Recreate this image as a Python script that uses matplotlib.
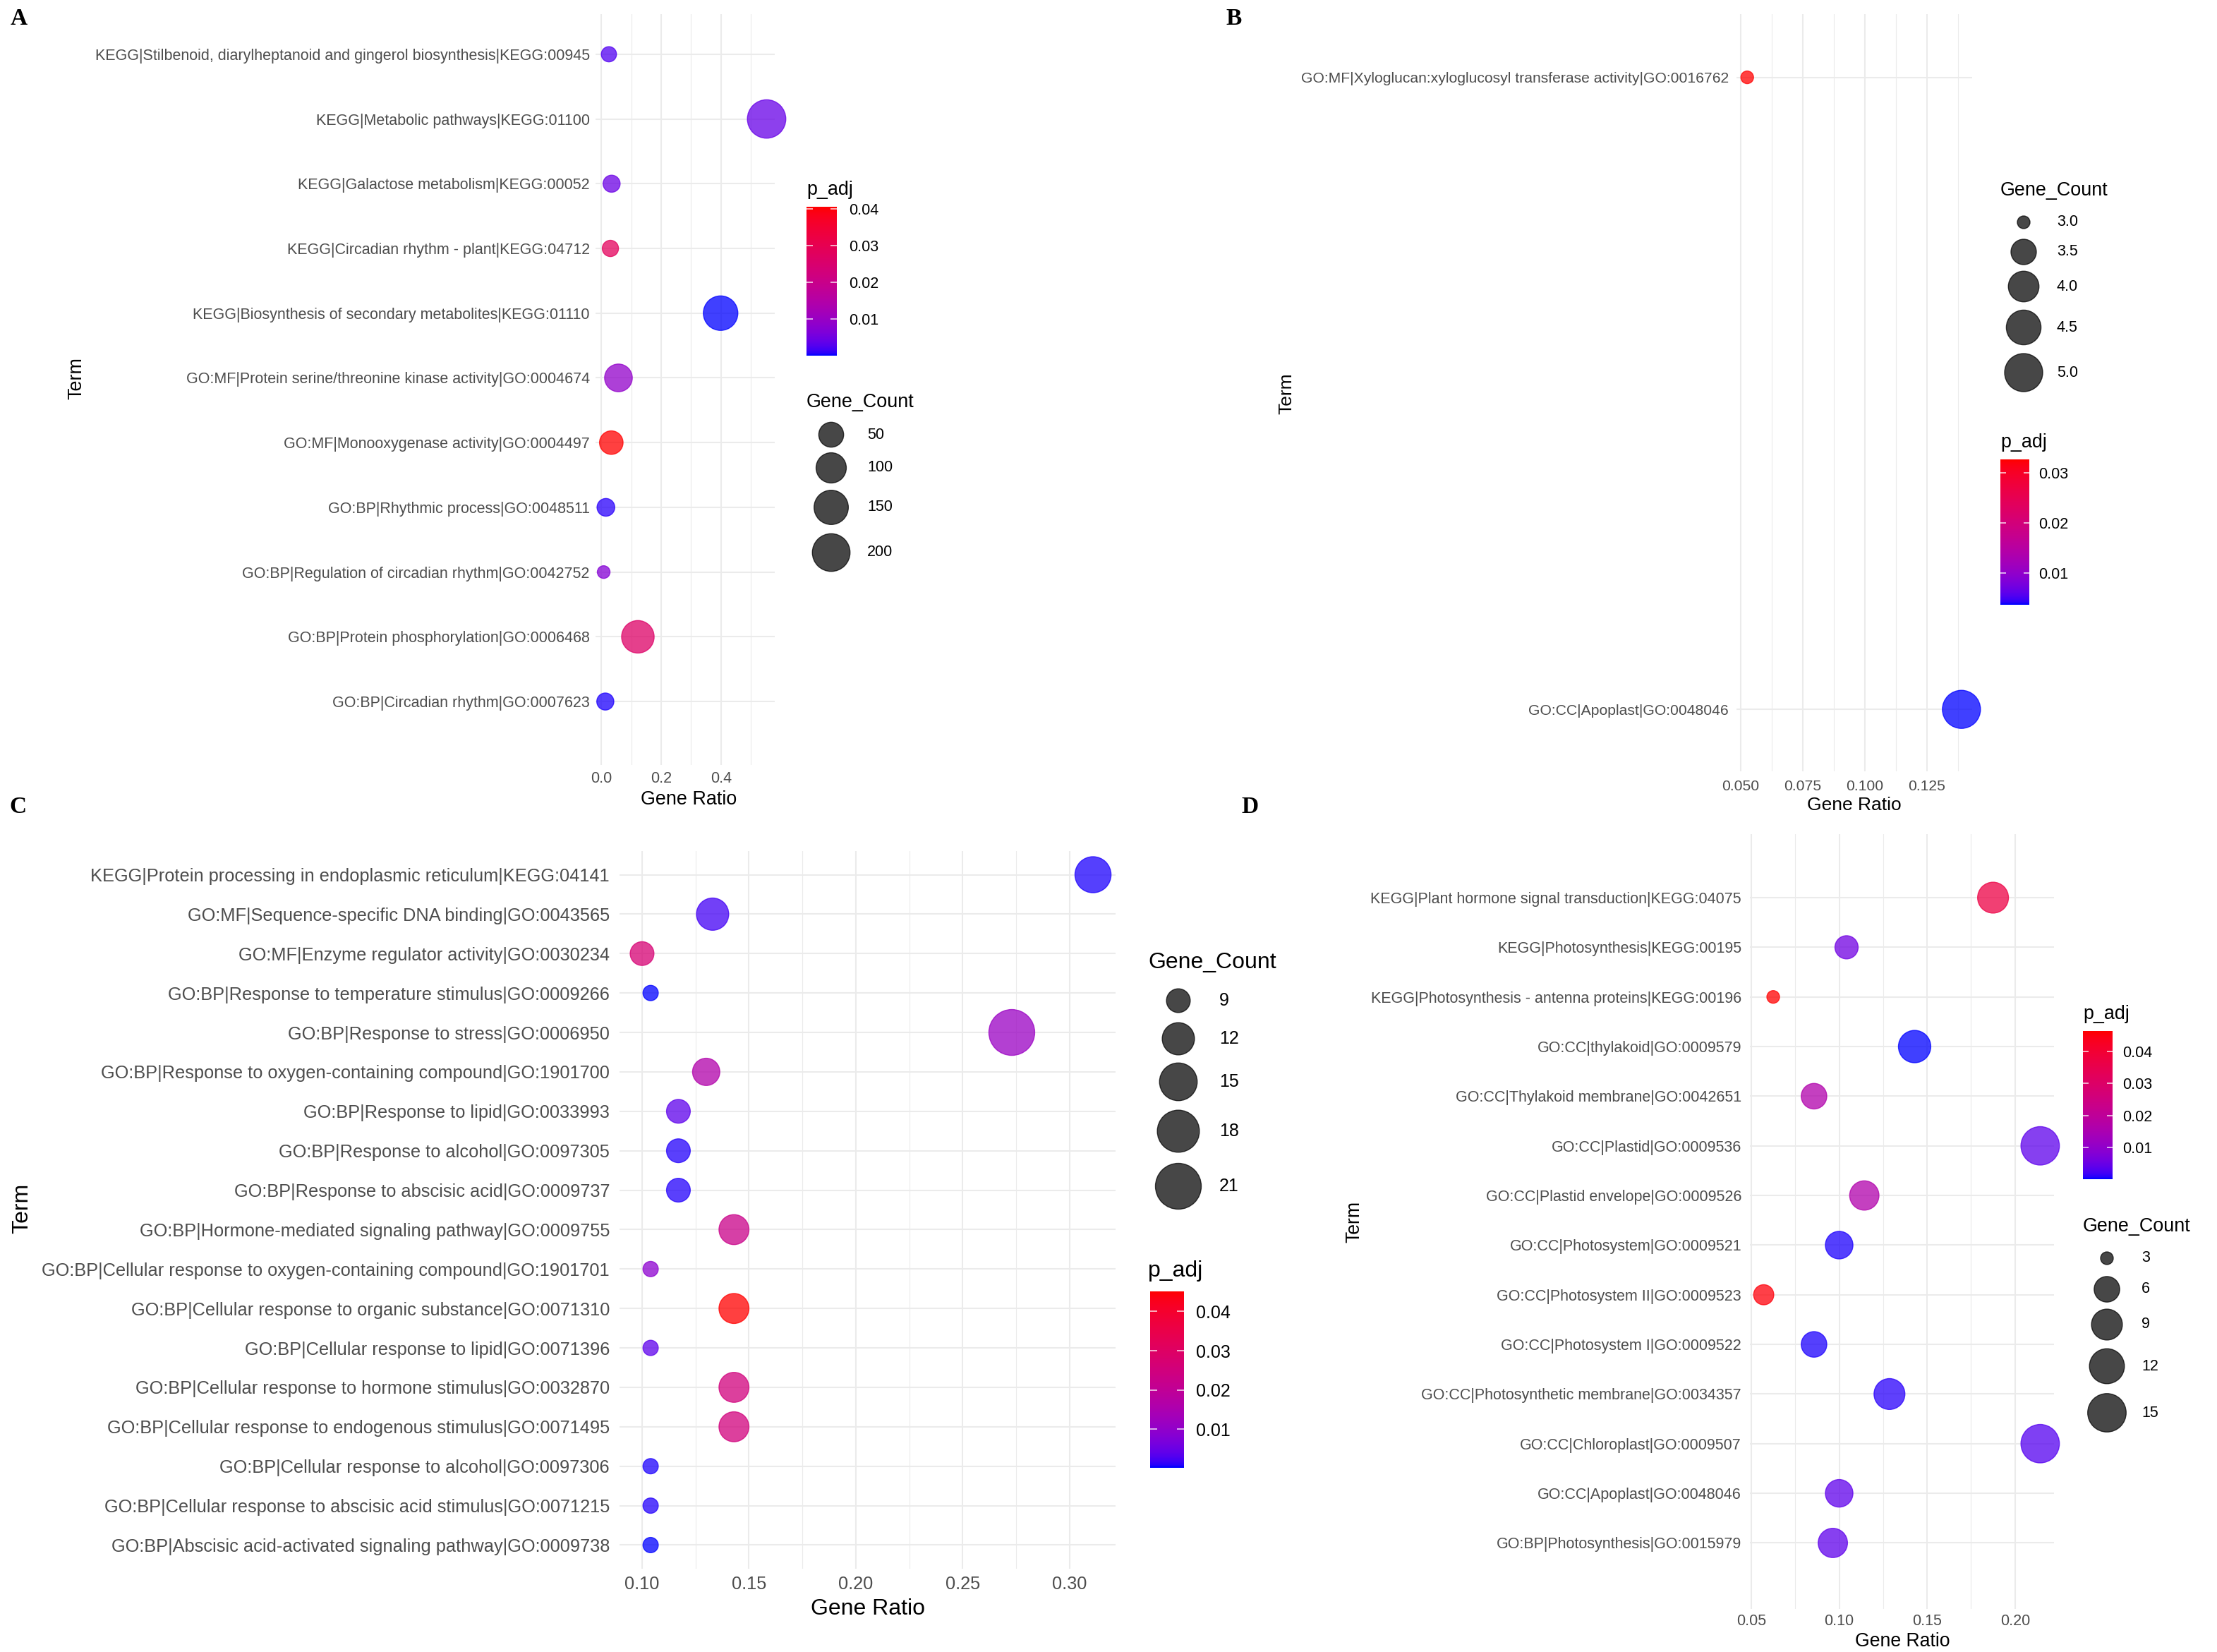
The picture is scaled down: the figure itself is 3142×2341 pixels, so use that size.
import numpy as np
import matplotlib
matplotlib.use("Agg")
import matplotlib.pyplot as plt
from matplotlib.colors import ListedColormap, Normalize
from matplotlib.ticker import MultipleLocator, FormatStrFormatter

plt.rcParams['font.family'] = ['Liberation Sans', 'DejaVu Sans']

W, H, DPI = 3142, 2341, 100

# ---------------- data (rows listed top to bottom) ----------------
terms_a = [
    "KEGG|Stilbenoid, diarylheptanoid and gingerol biosynthesis|KEGG:00945",
    "KEGG|Metabolic pathways|KEGG:01100",
    "KEGG|Galactose metabolism|KEGG:00052",
    "KEGG|Circadian rhythm - plant|KEGG:04712",
    "KEGG|Biosynthesis of secondary metabolites|KEGG:01110",
    "GO:MF|Protein serine/threonine kinase activity|GO:0004674",
    "GO:MF|Monooxygenase activity|GO:0004497",
    "GO:BP|Rhythmic process|GO:0048511",
    "GO:BP|Regulation of circadian rhythm|GO:0042752",
    "GO:BP|Protein phosphorylation|GO:0006468",
    "GO:BP|Circadian rhythm|GO:0007623",
]
ratio_a = [0.025, 0.553, 0.034, 0.030, 0.399, 0.057, 0.033, 0.015, 0.0075, 0.122, 0.013]
count_a = [5, 212, 9, 7, 153, 74, 40, 11, 3, 127, 9]
padj_a = [0.0025, 0.0042, 0.0045, 0.0285, 0.0001, 0.009, 0.0406, 0.0008, 0.0072, 0.0265, 0.0005]

terms_b = [
    "GO:MF|Xyloglucan:xyloglucosyl transferase activity|GO:0016762",
    "GO:CC|Apoplast|GO:0048046",
]
ratio_b = [0.0526, 0.1389]
count_b = [3, 5]
padj_b = [0.0327, 0.0037]

terms_c = [
    "KEGG|Protein processing in endoplasmic reticulum|KEGG:04141",
    "GO:MF|Sequence-specific DNA binding|GO:0043565",
    "GO:MF|Enzyme regulator activity|GO:0030234",
    "GO:BP|Response to temperature stimulus|GO:0009266",
    "GO:BP|Response to stress|GO:0006950",
    "GO:BP|Response to oxygen-containing compound|GO:1901700",
    "GO:BP|Response to lipid|GO:0033993",
    "GO:BP|Response to alcohol|GO:0097305",
    "GO:BP|Response to abscisic acid|GO:0009737",
    "GO:BP|Hormone-mediated signaling pathway|GO:0009755",
    "GO:BP|Cellular response to oxygen-containing compound|GO:1901701",
    "GO:BP|Cellular response to organic substance|GO:0071310",
    "GO:BP|Cellular response to lipid|GO:0071396",
    "GO:BP|Cellular response to hormone stimulus|GO:0032870",
    "GO:BP|Cellular response to endogenous stimulus|GO:0071495",
    "GO:BP|Cellular response to alcohol|GO:0097306",
    "GO:BP|Cellular response to abscisic acid stimulus|GO:0071215",
    "GO:BP|Abscisic acid-activated signaling pathway|GO:0009738",
]
ratio_c = [0.311, 0.133, 0.100, 0.104, 0.273, 0.130, 0.117, 0.117, 0.117,
           0.143, 0.104, 0.143, 0.104, 0.143, 0.143, 0.104, 0.104, 0.104]
count_c = [14, 12, 9, 8, 21, 10, 9, 9, 9, 11, 8, 11, 8, 11, 11, 8, 8, 8]
padj_c = [0.0006, 0.002, 0.027, 0.0003, 0.0114, 0.016, 0.0038, 0.0009, 0.0009,
          0.0226, 0.009, 0.0451, 0.0038, 0.025, 0.025, 0.0006, 0.0008, 0.0002]

terms_d = [
    "KEGG|Plant hormone signal transduction|KEGG:04075",
    "KEGG|Photosynthesis|KEGG:00195",
    "KEGG|Photosynthesis - antenna proteins|KEGG:00196",
    "GO:CC|thylakoid|GO:0009579",
    "GO:CC|Thylakoid membrane|GO:0042651",
    "GO:CC|Plastid|GO:0009536",
    "GO:CC|Plastid envelope|GO:0009526",
    "GO:CC|Photosystem|GO:0009521",
    "GO:CC|Photosystem II|GO:0009523",
    "GO:CC|Photosystem I|GO:0009522",
    "GO:CC|Photosynthetic membrane|GO:0034357",
    "GO:CC|Chloroplast|GO:0009507",
    "GO:CC|Apoplast|GO:0048046",
    "GO:BP|Photosynthesis|GO:0015979",
]
ratio_d = [0.1875, 0.1042, 0.0625, 0.1429, 0.0857, 0.2143, 0.1143,
           0.1000, 0.0571, 0.0857, 0.1286, 0.2143, 0.1000, 0.0964]
count_d = [9, 5, 3, 10, 6, 15, 8, 7, 4, 6, 9, 15, 7, 8]
padj_d = [0.037, 0.0057, 0.0464, 0.0001, 0.0163, 0.0038, 0.0163,
          0.0006, 0.0455, 0.0005, 0.001, 0.003, 0.004, 0.004]

# legend breaks
size_breaks_a = [50, 100, 150, 200]
size_breaks_b = [3.0, 3.5, 4.0, 4.5, 5.0]
size_breaks_c = [9, 12, 15, 18, 21]
size_breaks_d = [3, 6, 9, 12, 15]
p_ticks_a = [0.01, 0.02, 0.03, 0.04]
p_ticks_b = [0.01, 0.02, 0.03]
p_ticks_c = [0.01, 0.02, 0.03, 0.04]
p_ticks_d = [0.01, 0.02, 0.03, 0.04]


# ---------------- blue -> red gradient interpolated in CIELAB ----------------
M_RGB2XYZ = np.array([[0.4124564, 0.3575761, 0.1804375],
                      [0.2126729, 0.7151522, 0.0721750],
                      [0.0193339, 0.1191920, 0.9503041]])
WHITE = np.array([0.95047, 1.0, 1.08883])


def srgb_to_lab(rgb):
    rgb = np.asarray(rgb, float)
    lin = np.where(rgb <= 0.04045, rgb / 12.92, ((rgb + 0.055) / 1.055) ** 2.4)
    t = (M_RGB2XYZ @ lin) / WHITE
    f = np.where(t > (6 / 29) ** 3, np.cbrt(t), t / (3 * (6 / 29) ** 2) + 4 / 29)
    return np.array([116 * f[1] - 16, 500 * (f[0] - f[1]), 200 * (f[1] - f[2])])


def lab_to_srgb(lab):
    L, a, b = lab[:, 0], lab[:, 1], lab[:, 2]
    fy = (L + 16) / 116
    f = np.stack([fy + a / 500, fy, fy - b / 200], axis=1)
    t = np.where(f > 6 / 29, f ** 3, 3 * (6 / 29) ** 2 * (f - 4 / 29))
    lin = np.clip((t * WHITE) @ np.linalg.inv(M_RGB2XYZ).T, 0, 1)
    rgb = np.where(lin <= 0.0031308, 12.92 * lin, 1.055 * lin ** (1 / 2.4) - 0.055)
    return np.clip(rgb, 0, 1)


lab_lo = srgb_to_lab([0, 0, 1])
lab_hi = srgb_to_lab([1, 0, 0])
tt = np.linspace(0, 1, 256)[:, None]
cmap = ListedColormap(lab_to_srgb(lab_lo + tt * (lab_hi - lab_lo)))


def diam(v, vmin, vmax, dmin, dmax):
    # ggplot-like area scale: diameter grows with sqrt of rescaled value
    v = np.asarray(v, float)
    return dmin + (dmax - dmin) * np.sqrt((v - vmin) / (vmax - vmin))


def px2pt2(d):
    return (np.asarray(d) * 72 / DPI) ** 2


fig = plt.figure(figsize=(W / DPI, H / DPI), dpi=DPI)
fig.patch.set_facecolor('white')


def add_px_axes(x0, y0, x1, y1):
    return fig.add_axes([x0 / W, 1 - y1 / H, (x1 - x0) / W, (y1 - y0) / H])


def draw_panel(terms, ratio, count, padj, box, ylim, major, minor, fmt,
               fs, ypad, xpad, dmin, dmax):
    x0, y0, x1, y1 = box
    ax = add_px_axes(x0, y0, x1, y1)
    n = len(terms)
    ypos = np.arange(n)[::-1]
    lo, hi = min(ratio), max(ratio)
    ex = 0.05 * (hi - lo)
    ax.set_xlim(lo - ex, hi + ex)
    ax.set_ylim(*ylim)
    norm = Normalize(min(padj), max(padj))
    cols = cmap(norm(padj))
    d = diam(count, min(count), max(count), dmin, dmax)
    ax.scatter(ratio, ypos, s=px2pt2(d), c=cols, edgecolors=cols,
               linewidths=1.0, alpha=0.75, zorder=3, clip_on=False)
    ax.set_yticks(ypos, terms)
    ax.xaxis.set_major_locator(MultipleLocator(major))
    ax.xaxis.set_minor_locator(MultipleLocator(minor))
    ax.xaxis.set_major_formatter(FormatStrFormatter(fmt))
    ax.grid(which='major', color='#EBEBEB', lw=1.5)
    ax.grid(which='minor', axis='x', color='#EBEBEB', lw=0.8)
    ax.set_axisbelow(True)
    for s in ax.spines.values():
        s.set_visible(False)
    ax.tick_params(which='both', length=0, labelsize=fs, colors='#4D4D4D')
    ax.tick_params(axis='y', pad=ypad)
    ax.tick_params(axis='x', pad=xpad)
    ax.set_facecolor('white')
    return ax


def draw_colorbar(padj, rect, ticks, fs, pad):
    cax = add_px_axes(*rect)
    lo, hi = min(padj), max(padj)
    grad = np.linspace(lo, hi, 300).reshape(-1, 1)
    cax.imshow(grad, cmap=cmap, norm=Normalize(lo, hi), origin='lower',
               extent=[0, 1, lo, hi], aspect='auto')
    cax.set_xlim(0, 1)
    cax.set_ylim(lo, hi)
    cax.set_xticks([])
    cax.yaxis.tick_right()
    cax.set_yticks(ticks, [f"{t:.2f}" for t in ticks])
    cax.tick_params(length=0, labelsize=fs, pad=pad)
    for s in cax.spines.values():
        s.set_visible(False)
    cax.hlines(ticks, 0, 0.2, color='white', lw=1.2, alpha=0.8)
    cax.hlines(ticks, 0.8, 1, color='white', lw=1.2, alpha=0.8)


# ---------------- panels ----------------
draw_panel(terms_a, ratio_a, count_a, padj_a, (844, 20, 1098, 1084), (-0.98, 10.62),
           0.2, 0.1, '%.1f', 15.5, 6, 6.5, 18, 54.5)
draw_panel(terms_b, ratio_b, count_b, padj_b, (2461, 20, 2795, 1093), (-0.098, 1.1),
           0.025, 0.0125, '%.3f', 15.2, 8, 8.5, 18, 54)
draw_panel(terms_c, ratio_c, count_c, padj_c, (878, 1206, 1581, 2223), (-0.6, 17.6),
           0.05, 0.025, '%.2f', 18.3, 10, 7.4, 21.7, 65)
draw_panel(terms_d, ratio_d, count_d, padj_d, (2480, 1182, 2911, 2280), (-1.33, 14.28),
           0.05, 0.025, '%.2f', 15.5, 8.6, 4.8, 18, 54.5)

draw_colorbar(padj_a, (1143, 293, 1186, 504), p_ticks_a, 15.5, 12)
draw_colorbar(padj_b, (2835, 651, 2876, 857), p_ticks_b, 15.5, 9.7)
draw_colorbar(padj_c, (1630, 1830, 1678, 2080), p_ticks_c, 18, 12)
draw_colorbar(padj_d, (2952, 1461, 2994, 1671), p_ticks_d, 15.5, 10)

# overlay in pixel coordinates for titles and size legends
ov = fig.add_axes([0, 0, 1, 1])
ov.set_xlim(0, W)
ov.set_ylim(H, 0)
ov.axis('off')


def size_legend(breaks, labels, count, dmin, dmax, title_xy, key_x, label_x, key_ys, tfs, fs):
    ov.text(title_xy[0], title_xy[1], "Gene_Count", ha='left', va='center', fontsize=tfs)
    d = diam(breaks, min(count), max(count), dmin, dmax)
    ov.scatter([key_x] * len(breaks), key_ys, s=px2pt2(d), color='black',
               edgecolors='black', linewidths=1.0, alpha=0.72)
    for y, lab in zip(key_ys, labels):
        ov.text(label_x, y, lab, ha='left', va='center', fontsize=fs)


size_legend(size_breaks_a, [str(b) for b in size_breaks_a], count_a, 18, 54.5,
            (1143, 570), 1178, 1229, [616, 663, 719, 783], 19.4, 15.5)
size_legend(size_breaks_b, [f"{b:.1f}" for b in size_breaks_b], count_b, 18, 54,
            (2835, 270), 2868, 2915, [315, 357, 406, 464, 528], 19.4, 15.5)
size_legend(size_breaks_c, [str(b) for b in size_breaks_c], count_c, 21.7, 65,
            (1627, 1364), 1670, 1728, [1418, 1472, 1533, 1603, 1681], 23, 18)
size_legend(size_breaks_d, [str(b) for b in size_breaks_d], count_d, 18, 54.5,
            (2952, 1738), 2986, 3035, [1783, 1827, 1877, 1936, 2002], 19.4, 15.5)

# colorbar titles
ov.text(1143, 269, "p_adj", ha='left', va='center', fontsize=19.4)
ov.text(2835, 627, "p_adj", ha='left', va='center', fontsize=19.4)
ov.text(1627, 1801, "p_adj", ha='left', va='center', fontsize=23)
ov.text(2952, 1437, "p_adj", ha='left', va='center', fontsize=19.4)

# axis titles
ov.text(976, 1133, "Gene Ratio", ha='center', va='center', fontsize=19.4)
ov.text(2628, 1141, "Gene Ratio", ha='center', va='center', fontsize=19)
ov.text(1230, 2280, "Gene Ratio", ha='center', va='center', fontsize=23)
ov.text(2696, 2326, "Gene Ratio", ha='center', va='center', fontsize=19.2)
ov.text(108, 536, "Term", ha='center', va='center', rotation=90, fontsize=19.4)
ov.text(1823, 558, "Term", ha='center', va='center', rotation=90, fontsize=19)
ov.text(31, 1712, "Term", ha='center', va='center', rotation=90, fontsize=23)
ov.text(1919, 1731, "Term", ha='center', va='center', rotation=90, fontsize=19.2)

# panel letters
for letter, x, y in [("A", 15, 11), ("B", 1737, 11), ("C", 13, 1128), ("D", 1759, 1128)]:
    ov.text(x, y, letter, ha='left', va='top', fontsize=24, fontweight='bold',
            family=['Liberation Serif', 'DejaVu Serif'])

fig.savefig("out.png", dpi=DPI, facecolor='white')
